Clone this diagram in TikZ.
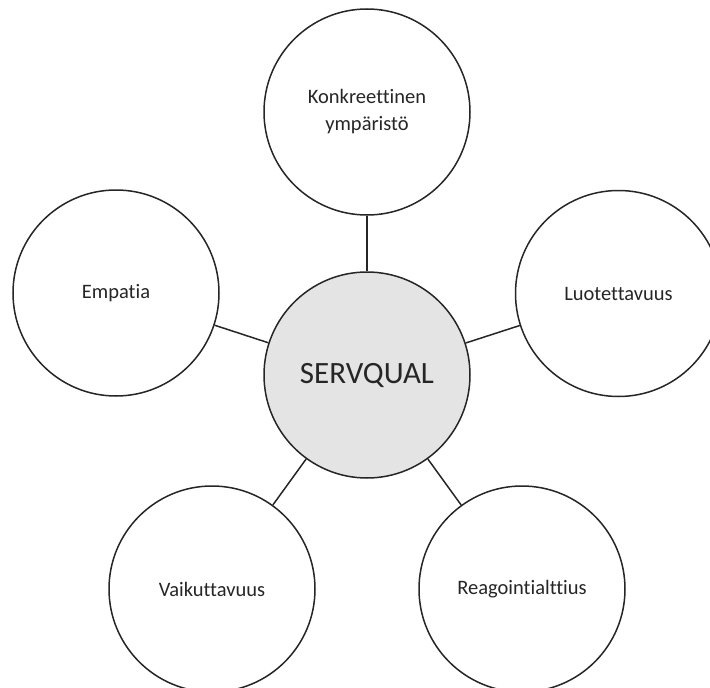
\documentclass[tikz,border=0pt]{standalone}
\usepackage{fontspec}
\setmainfont[RawFeature={-liga;-clig;-calt;-dlig}]{Carlito}
\definecolor{hubfill}{HTML}{E4E4E4}
\definecolor{inkc}{HTML}{262626}
\begin{document}
\begin{tikzpicture}[x=1pt,y=-1pt,
  bubble/.style={circle,draw=inkc,line width=1.5pt,fill=white,minimum size=206pt,inner sep=0pt,
    text=inkc,font=\fontsize{20.5}{27}\selectfont,align=center},
  hub/.style={bubble,fill=hubfill,font=\fontsize{31}{36}\selectfont},
  link/.style={draw=inkc,line width=1.5pt}]
\clip (0,0) rectangle (710,688);
\node[hub] (c) at (367,375) {SERVQUAL};
\node[bubble] (t) at (367,112) {Konkreettinen\\ympäristö};
\node[bubble] (l) at (116,293) {Empatia};
\node[bubble] (r) at (618.5,293.5) {Luotettavuus};
\node[bubble] (bl) at (212,589) {Vaikuttavuus};
\node[bubble] (br) at (522,589) {Reagointialttius};
\foreach \n in {t,l,r,bl,br} \draw[link] (c) -- (\n);
\end{tikzpicture}
\end{document}
